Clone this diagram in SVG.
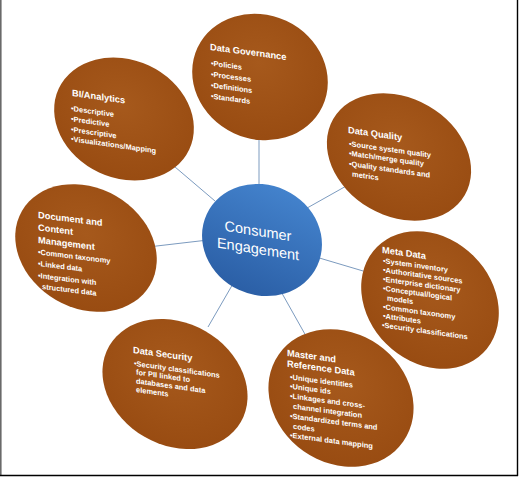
<svg xmlns="http://www.w3.org/2000/svg" width="520" height="478" viewBox="0 0 520 478">
<defs>
<radialGradient id="brown" cx="45%" cy="40%" r="65%">
<stop offset="0" stop-color="#a6591c"/>
<stop offset="1" stop-color="#984b11"/>
</radialGradient>
<linearGradient id="blue" x1="0" y1="0" x2="0" y2="1">
<stop offset="0" stop-color="#4382cc"/>
<stop offset="1" stop-color="#2b5fa6"/>
</linearGradient>
<style>
.n{fill:url(#brown);}
.c{fill:url(#blue);}
.t{font-family:"Liberation Sans",Arial,sans-serif;font-weight:bold;fill:#fff;font-size:9.3px;}
.b{font-family:"Liberation Sans",Arial,sans-serif;font-weight:bold;fill:#fff;font-size:7.5px;}
.ce{font-family:"Liberation Sans",Arial,sans-serif;fill:#fff;font-size:14.5px;text-anchor:middle;}
.l{stroke:#7c9bbf;stroke-width:1;fill:none;}
</style>
</defs>
<rect x="0" y="0" width="520" height="478" fill="#fff"/>
<line x1="0.8" y1="0" x2="0.8" y2="476" stroke="#6a6a6a" stroke-width="1.6"/>
<line x1="517.5" y1="0" x2="517.5" y2="476" stroke="#000" stroke-width="1.4"/>
<line x1="0" y1="475.5" x2="518" y2="475.5" stroke="#000" stroke-width="1.6"/>

<g id="connectors">
<line class="l" x1="259" y1="130" x2="259" y2="190"/>
<line class="l" x1="168" y1="161" x2="215" y2="201"/>
<line class="l" x1="300" y1="212" x2="348" y2="185"/>
<line class="l" x1="148" y1="247" x2="208" y2="240"/>
<line class="l" x1="316" y1="257" x2="380" y2="276"/>
<line class="l" x1="234" y1="282" x2="208" y2="327"/>
<line class="l" x1="279" y1="288" x2="306" y2="336"/>
</g>

<g id="data-governance">
<ellipse class="n" cx="260" cy="77" rx="69" ry="62" transform="rotate(25 260 77)"/>
<g transform="translate(210 50) skewY(7.5)">
<text class="t" x="0" y="0">Data Governance</text>
<text class="b" x="1" y="15.5">•Policies</text>
<text class="b" x="1" y="26.5">•Processes</text>
<text class="b" x="1" y="37.5">•Definitions</text>
<text class="b" x="1" y="48.5">•Standards</text>
</g>
</g>

<g id="bi-analytics">
<ellipse class="n" cx="124" cy="119" rx="72" ry="59" transform="rotate(25 124 119)"/>
<g transform="translate(72 96) skewY(8)">
<text class="t" x="0" y="0">BI/Analytics</text>
<text class="b" x="-1" y="15">•Descriptive</text>
<text class="b" x="-1" y="25.5">•Predictive</text>
<text class="b" x="-1" y="36">•Prescriptive</text>
<text class="b" x="-1" y="45.5">•Visualizations/Mapping</text>
</g>
</g>

<g id="data-quality">
<ellipse class="n" cx="399" cy="157" rx="76" ry="59" transform="rotate(30 399 157)"/>
<g transform="translate(348 133) skewY(8)">
<text class="t" x="0" y="0">Data Quality</text>
<text class="b" x="1" y="13">•Source system quality</text>
<text class="b" x="1" y="22.5">•Match/merge quality</text>
<text class="b" x="1" y="33">•Quality standards and</text>
<text class="b" x="4" y="43">metrics</text>
</g>
</g>

<g id="document-content-management">
<ellipse class="n" cx="86" cy="248" rx="74" ry="60" transform="rotate(30 86 248)"/>
<g transform="translate(38 218) skewY(7)">
<text class="t" x="0" y="0">Document and</text>
<text class="t" x="0" y="12.5">Content</text>
<text class="t" x="0" y="25">Management</text>
<text class="b" x="0" y="36.5">•Common taxonomy</text>
<text class="b" x="0" y="48">•Linked data</text>
<text class="b" x="0" y="60">•Integration with</text>
<text class="b" x="4" y="70.5">structured data</text>
</g>
</g>

<g id="meta-data">
<ellipse class="n" cx="430" cy="300" rx="75" ry="62" transform="rotate(45 430 300)"/>
<g transform="translate(382 253) skewY(8)">
<text class="t" x="0" y="0">Meta Data</text>
<text class="b" x="1" y="10">•System inventory</text>
<text class="b" x="1" y="19.2">•Authoritative sources</text>
<text class="b" x="1" y="28.4">•Enterprise dictionary</text>
<text class="b" x="1" y="37.6">•Conceptual/logical</text>
<text class="b" x="5" y="46.8">models</text>
<text class="b" x="1" y="56">•Common taxonomy</text>
<text class="b" x="1" y="65.2">•Attributes</text>
<text class="b" x="0" y="74.4">•Security classifications</text>
</g>
</g>

<g id="data-security">
<ellipse class="n" cx="175" cy="384" rx="76" ry="61" transform="rotate(30 175 384)"/>
<g transform="translate(133 353) skewY(8)">
<text class="t" x="0" y="0">Data Security</text>
<text class="b" x="1" y="12.7">•Security classifications</text>
<text class="b" x="3" y="21.2">for PII linked to</text>
<text class="b" x="3" y="30">databases and data</text>
<text class="b" x="3" y="38.7">elements</text>
</g>
</g>

<g id="master-reference-data">
<ellipse class="n" cx="341" cy="398" rx="76" ry="65" transform="rotate(35 341 398)"/>
<g transform="translate(287 356) skewY(7.5)">
<text class="t" x="0" y="0">Master and</text>
<text class="t" x="0" y="10.7">Reference Data</text>
<text class="b" x="3" y="23">•Unique identities</text>
<text class="b" x="3" y="32.3">•Unique ids</text>
<text class="b" x="3" y="42">•Linkages and cross-</text>
<text class="b" x="6" y="52">channel integration</text>
<text class="b" x="3" y="62">•Standardized terms and</text>
<text class="b" x="6" y="72">codes</text>
<text class="b" x="3" y="81.3">•External data mapping</text>
</g>
</g>

<g id="consumer-engagement">
<ellipse class="c" cx="262" cy="240" rx="61" ry="55" transform="rotate(25 262 240)"/>
<g transform="translate(258 236) skewY(9)">
<text class="ce" x="0" y="0">Consumer</text>
<text class="ce" x="0" y="18">Engagement</text>
</g>
</g>
</svg>
